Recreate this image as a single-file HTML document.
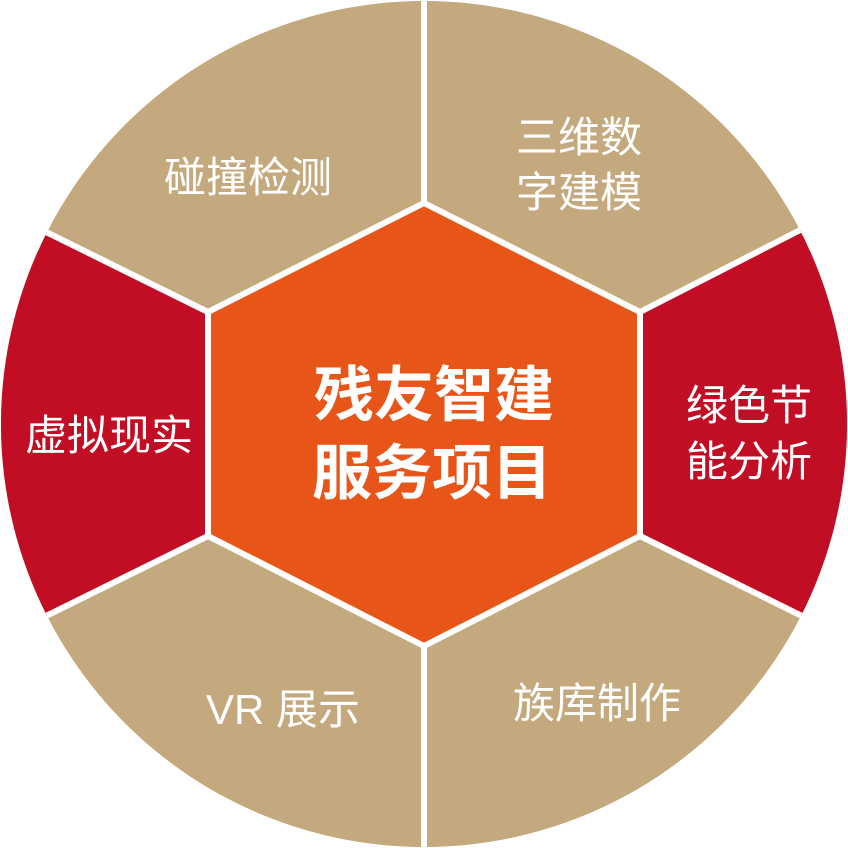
<!DOCTYPE html>
<html><head><meta charset="utf-8"><style>
html,body{margin:0;padding:0;background:#fff}
svg{display:block}
text{font-family:"Liberation Sans","Noto Sans CJK SC",sans-serif;fill:#fff;text-anchor:middle}
</style></head><body>
<svg width="848" height="848" viewBox="0 0 848 848">
<defs><clipPath id="c"><circle cx="424" cy="424" r="423"/></clipPath></defs>
<g clip-path="url(#c)">
<rect width="848" height="848" fill="#C4A97E"/>
<polygon points="208,312 40,229 -10,229 -10,620 40,619 208,536" fill="#C10E25"/>
<polygon points="640,312 808,226 860,226 860,620 808,619 640,536" fill="#C10E25"/>
<polygon points="424,203 640,312 640,536 424,646 208,536 208,312" fill="#E85518"/>
<g stroke="#fff" stroke-width="6" fill="none">
<polygon points="424,203 640,312 640,536 424,646 208,536 208,312"/>
<line x1="424" y1="203" x2="424" y2="-5"/>
<line x1="640" y1="312" x2="810" y2="225"/>
<line x1="640" y1="536" x2="810" y2="620"/>
<line x1="424" y1="646" x2="424" y2="855"/>
<line x1="208" y1="536" x2="38" y2="620"/>
<line x1="208" y1="312" x2="38" y2="228"/>
</g>
</g>
<g font-size="42">
<text x="248" y="192">碰撞检测</text>
<text x="579" y="152">三维数</text>
<text x="579" y="207">字建模</text>
<text x="749" y="420">绿色节</text>
<text x="749" y="476">能分析</text>
<text x="597" y="718">族库制作</text>
<text x="283" y="724">VR 展示</text>
<text x="109" y="450">虚拟现实</text>
</g>
<g font-size="60" font-weight="bold">
<text x="434" y="416">残友智建</text>
<text x="432" y="494">服务项目</text>
</g>
</svg>
</body></html>
